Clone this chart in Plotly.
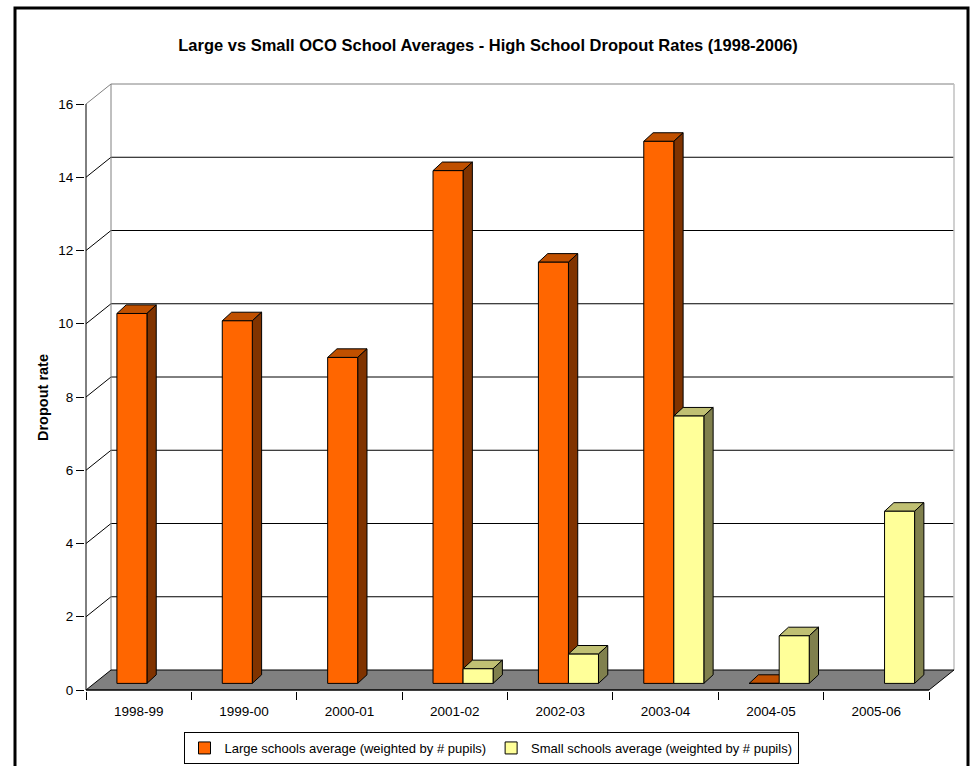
import plotly.graph_objects as go

# ---------------- data ----------------
categories = ["1998-99", "1999-00", "2000-01", "2001-02", "2002-03", "2003-04", "2004-05", "2005-06"]
large_avg = [10.1, 9.9, 8.9, 14.0, 11.5, 14.8, 0.0, None]
small_avg = [None, None, None, 0.4, 0.8, 7.3, 1.3, 4.7]
y_ticks = [0, 2, 4, 6, 8, 10, 12, 14, 16]
series_names = ["Large schools average (weighted by # pupils)",
                "Small schools average (weighted by # pupils)"]

# ---------------- style / geometry ----------------
W, H = 972, 766
PX_L, PX_R, PX_T, PX_B = 85, 957, 82, 691        # plot area in px
X0_PX, Y0_PX = 86, 690                           # front origin (cat -0.5, value 0)
PX_PER_CAT = (929 - 86) / 8
PX_PER_UNIT = (690 - 104) / 16
DXB, DYB = 25 / PX_PER_CAT, 20 / PX_PER_UNIT     # back wall depth offset
DXF, DYF = 0.33 * DXB, 0.33 * DYB                # bar front plane offset
DDX, DDY = 9.3 / PX_PER_CAT, 8.6 / PX_PER_UNIT   # bar depth
BARGAP = 0.43
BW = (1 - BARGAP) / 2
YMAX = 16

xr = [-0.5 - (X0_PX - PX_L) / PX_PER_CAT, -0.5 + (PX_R - X0_PX) / PX_PER_CAT]
yr = [-(PX_B - Y0_PX) / PX_PER_UNIT, (Y0_PX - PX_T) / PX_PER_UNIT]
xr2 = [v - DXF for v in xr]
yr2 = [v - DYF for v in yr]

colors_front = ["#FF6600", "#FFFF99"]
colors_top = ["#C05000", "#C0C073"]
colors_side = ["#803300", "#80804D"]
FONT = "Liberation Sans, Arial, sans-serif"

fig = go.Figure()

# ---- walls and floor (front plane axes x/y) ----
n = len(categories)
xa, xb = -0.5, n - 0.5
fig.add_trace(go.Scatter(
    x=[xa + DXB, xb + DXB, xb + DXB, xa + DXB, xa + DXB],
    y=[DYB, DYB, YMAX + DYB, YMAX + DYB, DYB],
    fill="toself", fillcolor="white", mode="lines", line=dict(width=0),
    hoverinfo="skip", showlegend=False))

# gridlines on back wall + diagonals on left wall (black)
gx, gy = [], []
for v in y_ticks[1:-1]:
    gx += [xa, xa + DXB, xb + DXB, None]
    gy += [v, v + DYB, v + DYB, None]
fig.add_trace(go.Scatter(x=gx, y=gy, mode="lines", line=dict(color="black", width=1),
                         hoverinfo="skip", showlegend=False))
# gray edges: top, left back edge
fig.add_trace(go.Scatter(
    x=[xa, xa + DXB, xb + DXB, None, xa + DXB, xa + DXB],
    y=[YMAX, YMAX + DYB, YMAX + DYB, None, YMAX + DYB, DYB],
    mode="lines", line=dict(color="#808080", width=1), hoverinfo="skip", showlegend=False))
fig.add_trace(go.Scatter(
    x=[xb + DXB, xb + DXB], y=[YMAX + DYB, DYB],
    mode="lines", line=dict(color="#C0C0C0", width=1.5), hoverinfo="skip", showlegend=False))
# floor
fig.add_trace(go.Scatter(
    x=[xa, xb, xb + DXB, xa + DXB, xa],
    y=[0, 0, DYB, DYB, 0],
    fill="toself", fillcolor="#808080", mode="lines", line=dict(color="black", width=1),
    hoverinfo="skip", showlegend=False))
# front axis lines
fig.add_trace(go.Scatter(
    x=[xa, xa, None, xa, xb], y=[0, YMAX, None, 0, 0],
    mode="lines", line=dict(color="black", width=1), hoverinfo="skip", showlegend=False))

# ---- bar tops and sides (bar plane axes x2/y2) ----
for s, vals in enumerate([large_avg, small_avg]):
    tx, ty, sx, sy = [], [], [], []
    for c, v in enumerate(vals):
        if v is None:
            continue
        left = c - BW + s * BW
        right = left + BW
        tx += [left, right, right + DDX, left + DDX, left, None]
        ty += [v, v, v + DDY, v + DDY, v, None]
        if v > 0:
            sx += [right, right + DDX, right + DDX, right, right, None]
            sy += [0, DDY, v + DDY, v, 0, None]
    fig.add_trace(go.Scatter(x=tx, y=ty, xaxis="x2", yaxis="y2", mode="lines",
                             fill="toself", fillcolor=colors_top[s],
                             line=dict(color="black", width=1),
                             hoverinfo="skip", showlegend=False))
    fig.add_trace(go.Scatter(x=sx, y=sy, xaxis="x2", yaxis="y2", mode="lines",
                             fill="toself", fillcolor=colors_side[s],
                             line=dict(color="black", width=1),
                             hoverinfo="skip", showlegend=False))

# ---- bar front faces (x3/y3, same plane as x2/y2) ----
for s, vals in enumerate([large_avg, small_avg]):
    fig.add_trace(go.Bar(
        x=list(range(n)), y=vals, name=series_names[s], xaxis="x3", yaxis="y3",
        marker=dict(color=colors_front[s], line=dict(color="black", width=1)),
        hovertext=categories))

# ---------------- layout ----------------
def px2paper_x(px):
    return (px - PX_L) / (PX_R - PX_L)

def px2paper_y(py):
    return (PX_B - py) / (PX_B - PX_T)

hidden = dict(visible=False, showgrid=False, zeroline=False)
fig.update_layout(
    width=W, height=H,
    margin=dict(l=PX_L, r=W - PX_R, t=PX_T, b=H - PX_B, autoexpand=False),
    paper_bgcolor="white", plot_bgcolor="rgba(0,0,0,0)",
    font=dict(family=FONT, size=13.5, color="black"),
    barmode="group", bargap=BARGAP, bargroupgap=0,
    title=dict(text="<b>Large vs Small OCO School Averages - High School Dropout Rates (1998-2006)</b>",
               font=dict(family=FONT, size=16.5, color="black"),
               xref="container", yref="container", x=488 / W, y=1 - 45 / H,
               xanchor="center", yanchor="middle"),
    xaxis=dict(range=xr, showgrid=False, zeroline=False, showline=False,
               tickmode="array", tickvals=list(range(n)), ticktext=categories,
               ticks="outside", ticklen=8, tickcolor="rgba(0,0,0,0)",
               tickfont=dict(size=13.5),
               minor=dict(tickmode="array", tickvals=[i - 0.5 for i in range(n + 1)],
                          ticks="outside", ticklen=8, tickcolor="black", showgrid=False)),
    yaxis=dict(range=yr, showgrid=False, zeroline=False, showline=False,
               tickmode="array", tickvals=y_ticks, ticks="outside", ticklen=8,
               tickcolor="black", tickfont=dict(size=13.5)),
    xaxis2=dict(range=xr2, overlaying="x", **hidden),
    yaxis2=dict(range=yr2, overlaying="y", **hidden),
    xaxis3=dict(range=xr2, overlaying="x", **hidden),
    yaxis3=dict(range=yr2, overlaying="y", **hidden),
    legend=dict(orientation="h", xref="container", yref="container",
                x=491 / W, y=1 - 748 / H, xanchor="center", yanchor="middle",
                bgcolor="white", bordercolor="black", borderwidth=1,
                font=dict(size=13), itemwidth=30, tracegroupgap=0),
    annotations=[dict(text="<b>Dropout rate</b>", textangle=-90,
                      xref="paper", yref="paper", x=px2paper_x(43), y=px2paper_y(398),
                      xanchor="center", yanchor="middle", showarrow=False,
                      font=dict(family=FONT, size=14.5, color="black"))],
    shapes=[dict(type="rect", xref="paper", yref="paper",
                 x0=px2paper_x(15), x1=px2paper_x(968),
                 y0=px2paper_y(780), y1=px2paper_y(8),
                 line=dict(color="black", width=3), fillcolor="rgba(0,0,0,0)")],
)

fig.write_html("out.html")
